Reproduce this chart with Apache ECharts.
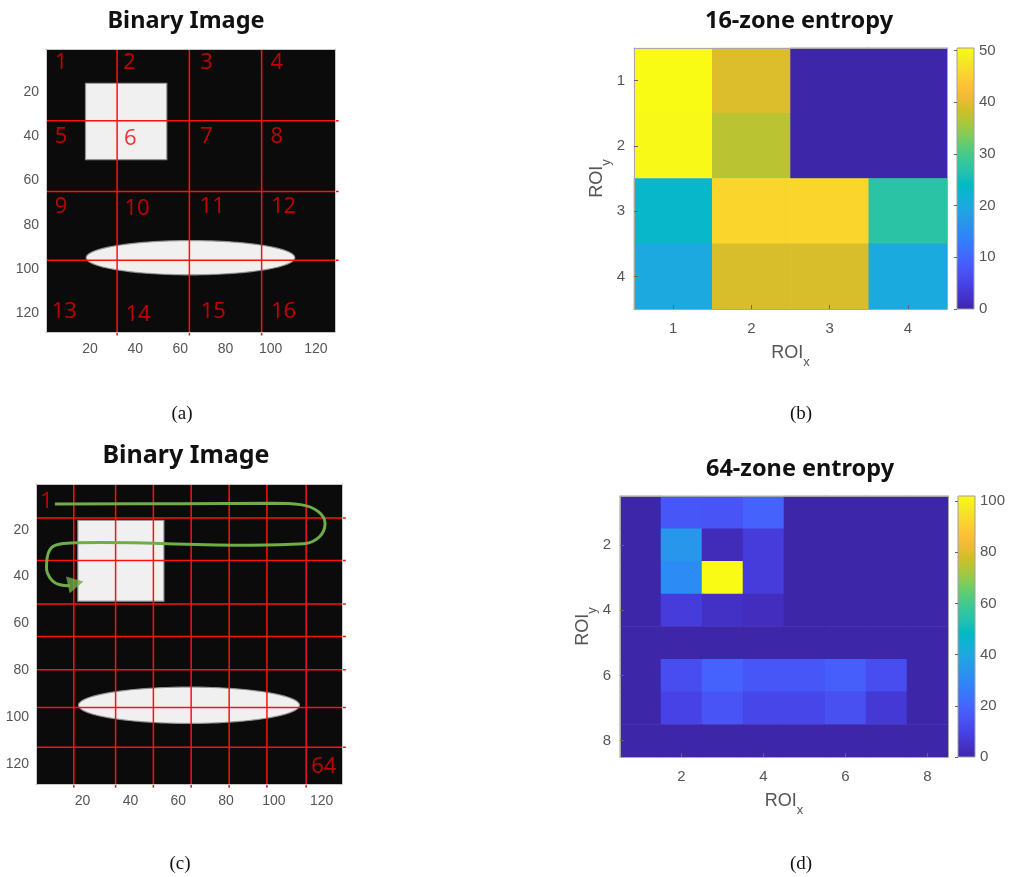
<!DOCTYPE html>
<html><head><meta charset="utf-8">
<script src="https://cdn.jsdelivr.net/npm/echarts@6/dist/echarts.min.js"></script>
<style>html,body{margin:0;padding:0;background:#fff}#c{width:1012px;height:877px}</style>
</head><body><div id="c"></div>
<script>
// ---------------- data ----------------
const imageTicks = [20, 40, 60, 80, 100, 120];
const imageExtent = [0.5, 128.5];
const roiCats16 = ['1', '2', '3', '4'];
const roiCats64 = ['1', '2', '3', '4', '5', '6', '7', '8'];
const cbTicks16 = [0, 10, 20, 30, 40, 50];
const cbTicks64 = [0, 20, 40, 60, 80, 100];
const entropy16Max = 50.5;
const entropy64Max = 102;
// rows = ROI_y (top to bottom), cols = ROI_x
const entropy16 = [
  [50.5, 39.3, 0, 0],
  [50.2, 37.0, 0, 0],
  [23.2, 45.7, 45.7, 27.3],
  [20.0, 39.0, 39.0, 20.3]
];
const entropy64 = [
  [0, 16, 15, 19, 0, 0, 0, 0],
  [0, 34, 2.4, 8, 0, 0, 0, 0],
  [0, 30.5, 102, 8, 0, 0, 0, 0],
  [0, 8, 4, 3, 0, 0, 0, 0],
  [0, 0, 0, 0, 0, 0, 0, 0],
  [0, 13, 19, 16, 16, 18, 13, 0],
  [0, 10, 15, 11, 11, 14, 7, 0],
  [0, 0, 0, 0, 0, 0, 0, 0]
];
// binary image objects, in image pixel units
const squareBox = [18, 16, 54, 50.5];        // x0, y0, x1, y1
const ellipseBox = [64.5, 94.9, 46.2, 7.75]; // cx, cy, rx, ry
// red zone boundaries
const zone16LinesX = [32, 64, 96];
const zone16LinesY = [33, 65, 96];
const zone64LinesX = [16.3, 33.8, 49.6, 65.4, 81.3, 97.1, 113.5];
const zone64LinesY = [15.0, 33.1, 51.7, 65.6, 79.8, 95.9, 112.8];
const zoneLineOvershoot = 1.6;
// zone numbers [x, y, text]
const zone16Numbers = [
  [7.2, 6.7, '1'], [37.4, 6.7, '2'], [71.6, 6.7, '3'], [102.7, 6.7, '4'],
  [7.2, 40.1, '5'], [37.8, 41.3, '6'], [71.6, 40.1, '7'], [102.7, 40.1, '8'],
  [7.2, 71.8, '9'], [40.8, 72.8, '10'], [74.1, 71.8, '11'], [105.7, 71.8, '12'],
  [8.6, 119.5, '13'], [41.3, 120.5, '14'], [74.6, 119.5, '15'], [105.7, 119.5, '16']
];
const zone64Numbers = [[4.9, 7.9, '1'], [120.9, 121.1, '64']];
// green scan-order path (image pixel units)
const scanPath = [
  [8.4, 9.0], [60.7, 8.9], [99.8, 8.7], [111.1, 9.3], [118.6, 12.3], [121.4, 17.4],
  [119.1, 23.0], [112.4, 26.0], [90.1, 26.6], [27.3, 25.5], [14.7, 25.7], [7.7, 27.1],
  [5.15, 32.1], [4.9, 36.4], [7.0, 41.4], [10.5, 43.5], [14.7, 43.9]
];
const scanArrow = [[17.1, 42.8]];

// parula colormap
const parula = ['#3e26a8','#4432cb','#4741e5','#4852f4','#4563fd','#3875fe','#2e87f7','#2796eb',
  '#20a5e3','#12b1d6','#02bac3','#24c1ae','#37c897','#57cc7a','#81cc59','#abc739','#d1bf27',
  '#f0ba36','#fec338','#fad62d','#f5e924','#f9fb15'];

// ---------------- helpers ----------------
const tickColor = '#555';
const sansFont = 'Liberation Sans, Arial, sans-serif';
function heatData(m) {
  const out = [];
  m.forEach((row, r) => row.forEach((v, c) => out.push([c, r, v])));
  return out;
}
function imageShapes() {
  return [
    [imageExtent[0], imageExtent[0], imageExtent[1], imageExtent[1], 0],
    [squareBox[0], squareBox[1], squareBox[2], squareBox[3], 1],
    [ellipseBox[0] - ellipseBox[2], ellipseBox[1] - ellipseBox[3], ellipseBox[0] + ellipseBox[2], ellipseBox[1] + ellipseBox[3], 2]
  ];
}
function lineSegments(xs, ys) {
  const segs = [];
  xs.forEach(x => segs.push([x, imageExtent[0], x, imageExtent[1] + zoneLineOvershoot]));
  ys.forEach(y => segs.push([imageExtent[0], y, imageExtent[1] + zoneLineOvershoot, y]));
  return segs;
}
function renderShape(params, api) {
  const k = api.value(4);
  const a = api.coord([api.value(0), api.value(1)]);
  const b = api.coord([api.value(2), api.value(3)]);
  const x = Math.min(a[0], b[0]), y = Math.min(a[1], b[1]);
  const w = Math.abs(b[0] - a[0]), h = Math.abs(b[1] - a[1]);
  if (k === 0) return { type: 'rect', shape: { x, y, width: w, height: h }, style: { fill: '#0b0b0b' } };
  if (k === 1) return { type: 'rect', shape: { x, y, width: w, height: h }, style: { fill: '#f0f0f0', stroke: 'rgba(150,150,150,0.9)', lineWidth: 1.2 } };
  const pts = [];
  for (let i = 0; i < 120; i++) {
    const t = i / 120 * Math.PI * 2;
    pts.push([x + w / 2 + w / 2 * Math.cos(t), y + h / 2 + h / 2 * Math.sin(t)]);
  }
  return { type: 'polygon', shape: { points: pts }, style: { fill: '#f0f0f0', stroke: 'rgba(150,150,150,0.9)', lineWidth: 1.2 } };
}
function renderLine(params, api) {
  const a = api.coord([api.value(0), api.value(1)]);
  const b = api.coord([api.value(2), api.value(3)]);
  return { type: 'line', shape: { x1: a[0], y1: a[1], x2: b[0], y2: b[1] }, style: { stroke: '#ff1010', lineWidth: 1.5 } };
}
const cbGradient = new echarts.graphic.LinearGradient(0, 1, 0, 0,
  parula.map((c, i) => ({ offset: i / (parula.length - 1), color: c })));
function renderColorbar(params, api) {
  const a = api.coord([0, api.value(0)]);
  const b = api.coord([1, api.value(1)]);
  return { type: 'rect', shape: { x: a[0], y: b[1], width: b[0] - a[0], height: a[1] - b[1] },
    style: { fill: cbGradient, stroke: '#a0a0a0', lineWidth: 1 } };
}
function roiName(sub) { return '{m|ROI}{s|' + sub + '}'; }
const roiRich = {
  m: { fontSize: 18, color: tickColor, fontFamily: sansFont, verticalAlign: 'top', lineHeight: 18 },
  s: { fontSize: 13, color: tickColor, fontFamily: sansFont, verticalAlign: 'bottom', lineHeight: 25 }
};
function imageXAxis(gi) {
  return { type: 'value', gridIndex: gi, min: imageExtent[0], max: imageExtent[1], z: 5,
    axisLine: { show: true, onZero: false, lineStyle: { color: '#c8c8c8' } },
    axisTick: { show: false }, splitLine: { show: false },
    axisLabel: { customValues: imageTicks, color: tickColor, fontSize: 14, fontFamily: sansFont, margin: 10 } };
}
function imageYAxis(gi) {
  return { type: 'value', gridIndex: gi, min: imageExtent[0], max: imageExtent[1], inverse: true, z: 5,
    axisLine: { show: true, onZero: false, lineStyle: { color: '#c8c8c8' } },
    axisTick: { show: false }, splitLine: { show: false },
    axisLabel: { customValues: imageTicks, color: tickColor, fontSize: 14, fontFamily: sansFont, margin: 7 } };
}
function frameAxis(gi, pos, color) {
  return { type: 'value', gridIndex: gi, position: pos, min: 0, max: 1, z: 5,
    axisLine: { show: true, onZero: false, lineStyle: { color } },
    axisTick: { show: false }, axisLabel: { show: false }, splitLine: { show: false } };
}
const evenOnly = (i) => i % 2 === 1;
function heatXAxis(gi, cats, every) {
  return { type: 'category', gridIndex: gi, data: cats, z: 5,
    axisLine: { show: true, onZero: false, lineStyle: { color: '#a8a8a8' } },
    axisTick: { show: true, inside: true, alignWithLabel: true, length: 4, interval: every || 0, lineStyle: { color: '#666' } },
    axisLabel: { color: tickColor, fontSize: 15, fontFamily: sansFont, margin: 12, interval: every || 0 },
    splitLine: { show: false },
    name: roiName('x'), nameLocation: 'middle', nameGap: 35, nameTextStyle: { rich: roiRich } };
}
function heatYAxis(gi, cats, every, gap) {
  return { type: 'category', gridIndex: gi, data: cats, inverse: true, z: 5,
    axisLine: { show: true, onZero: false, lineStyle: { color: '#a8a8a8' } },
    axisTick: { show: true, inside: true, alignWithLabel: true, length: 4, interval: every || 0, lineStyle: { color: '#666' } },
    axisLabel: { color: tickColor, fontSize: 15, fontFamily: sansFont, margin: 9, interval: every || 0 },
    splitLine: { show: false },
    name: roiName('y'), nameLocation: 'middle', nameRotate: 90, nameGap: gap, nameTextStyle: { rich: roiRich } };
}
function cbXAxis(gi) {
  return { type: 'value', gridIndex: gi, min: 0, max: 1, show: false };
}
function cbYAxis(gi, max, ticks) {
  return { type: 'value', gridIndex: gi, position: 'right', min: 0, max: max, z: 5,
    axisLine: { show: false },
    axisTick: { show: true, inside: true, length: 3, customValues: ticks, lineStyle: { color: '#666' } },
    axisLabel: { customValues: ticks, color: tickColor, fontSize: 15, fontFamily: sansFont, margin: 5 },
    splitLine: { show: false } };
}

const titleFont = 'Noto Sans, Open Sans, sans-serif';
function titleText(text, x, y, size) {
  return { type: 'text', x, y, style: { text, align: 'center', verticalAlign: 'middle', fontSize: size, fontWeight: 'bold', fontFamily: titleFont, fill: '#111' } };
}
function captionText(text, x, y) {
  return { type: 'text', x, y, style: { text, align: 'center', verticalAlign: 'middle', fontSize: 19, fontFamily: 'Liberation Serif, Times New Roman, serif', fill: '#111' } };
}
const numberLabel = { show: true, position: 'inside', formatter: p => p.value[2], color: '#f00000', fontSize: 22, fontFamily: 'Open Sans, Noto Sans, sans-serif' };

const option = {
  animation: false,
  backgroundColor: '#fff',
  grid: [
    { left: 46, top: 49, width: 289, height: 283, outerBoundsMode: 'none' },
    { left: 634, top: 48, width: 313, height: 261, outerBoundsMode: 'none' },
    { left: 36, top: 484, width: 306, height: 300, outerBoundsMode: 'none' },
    { left: 620, top: 496, width: 328, height: 261, outerBoundsMode: 'none' },
    { left: 957, top: 48, width: 17, height: 261, outerBoundsMode: 'none' },
    { left: 958, top: 496, width: 17, height: 261, outerBoundsMode: 'none' }
  ],
  xAxis: [
    imageXAxis(0), heatXAxis(1, roiCats16), imageXAxis(2), heatXAxis(3, roiCats64, evenOnly),
    cbXAxis(4), cbXAxis(5),
    frameAxis(0, 'top', '#c8c8c8'), frameAxis(1, 'top', '#a8a8a8'), frameAxis(2, 'top', '#c8c8c8'), frameAxis(3, 'top', '#a8a8a8')
  ],
  yAxis: [
    imageYAxis(0), heatYAxis(1, roiCats16, 0, 15), imageYAxis(2), heatYAxis(3, roiCats64, evenOnly, 14),
    cbYAxis(4, entropy16Max, cbTicks16), cbYAxis(5, entropy64Max, cbTicks64),
    frameAxis(0, 'right', '#c8c8c8'), frameAxis(1, 'right', '#a8a8a8'), frameAxis(2, 'right', '#c8c8c8'), frameAxis(3, 'right', '#a8a8a8')
  ],
  visualMap: [
    { type: 'continuous', show: false, min: 0, max: entropy16Max, seriesIndex: 3, inRange: { color: parula } },
    { type: 'continuous', show: false, min: 0, max: entropy64Max, seriesIndex: 10, inRange: { color: parula } }
  ],
  graphic: [
    titleText('Binary Image', 186, 21, 23.5),
    titleText('16-zone entropy', 799, 21, 23.5),
    titleText('Binary Image', 186, 456, 25),
    titleText('64-zone entropy', 800, 469, 23.5),
    captionText('(a)', 182, 414),
    captionText('(b)', 801, 414),
    captionText('(c)', 180, 864),
    captionText('(d)', 801, 864)
  ],
  series: [
    { type: 'custom', xAxisIndex: 0, yAxisIndex: 0, data: imageShapes(), renderItem: renderShape, silent: true },
    { type: 'custom', xAxisIndex: 0, yAxisIndex: 0, data: lineSegments(zone16LinesX, zone16LinesY), renderItem: renderLine, silent: true, clip: false },
    { type: 'scatter', xAxisIndex: 0, yAxisIndex: 0, data: zone16Numbers, symbolSize: 1, itemStyle: { color: 'rgba(0,0,0,0)' }, label: numberLabel, silent: true },
    { type: 'heatmap', xAxisIndex: 1, yAxisIndex: 1, data: heatData(entropy16), silent: true },
    { type: 'custom', xAxisIndex: 4, yAxisIndex: 4, data: [[0, entropy16Max]], renderItem: renderColorbar, silent: true },
    { type: 'custom', xAxisIndex: 2, yAxisIndex: 2, data: imageShapes(), renderItem: renderShape, silent: true },
    { type: 'custom', xAxisIndex: 2, yAxisIndex: 2, data: lineSegments(zone64LinesX, zone64LinesY), renderItem: renderLine, silent: true, clip: false },
    { type: 'line', xAxisIndex: 2, yAxisIndex: 2, data: scanPath, smooth: 0.4, symbol: 'none', lineStyle: { color: '#70ad47', width: 3 }, silent: true, z: 4 },
    { type: 'scatter', xAxisIndex: 2, yAxisIndex: 2, data: scanArrow, symbol: 'triangle', symbolSize: [17, 16], symbolRotate: -77.5, itemStyle: { color: '#70ad47' }, silent: true, z: 4 },
    { type: 'scatter', xAxisIndex: 2, yAxisIndex: 2, data: zone64Numbers, symbolSize: 1, itemStyle: { color: 'rgba(0,0,0,0)' }, label: numberLabel, silent: true, z: 4 },
    { type: 'heatmap', xAxisIndex: 3, yAxisIndex: 3, data: heatData(entropy64), silent: true },
    { type: 'custom', xAxisIndex: 5, yAxisIndex: 5, data: [[0, entropy64Max]], renderItem: renderColorbar, silent: true }
  ]
};
const chart = echarts.init(document.getElementById('c'), null, { renderer: 'canvas' });
chart.setOption(option);
</script>
</body></html>
